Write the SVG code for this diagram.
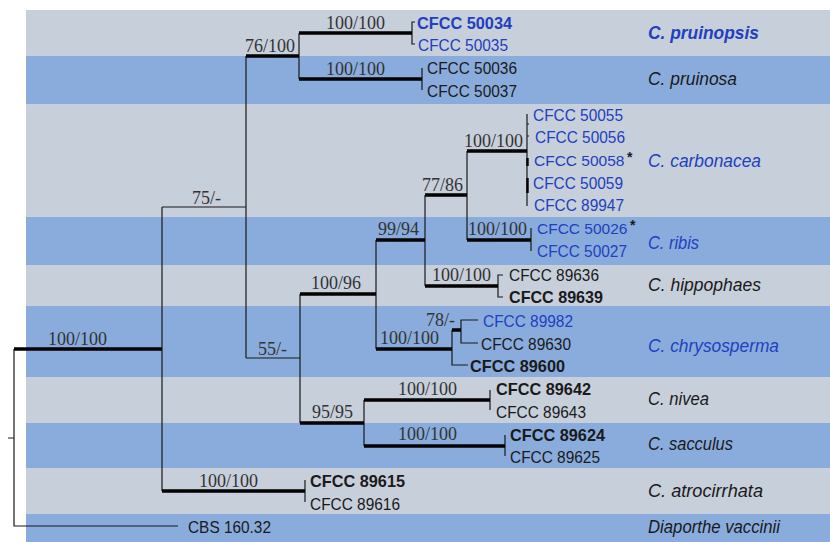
<svg xmlns="http://www.w3.org/2000/svg" width="830" height="542" viewBox="0 0 830 542">
<style>
.g{fill:#c7cfda}
.b{fill:#89acdc}
.tn{fill:none;stroke:#1a1a1a;stroke-width:1.2}
.tk{fill:none;stroke:#000;stroke-width:3.6}
.s{font-family:"Liberation Serif",serif;font-size:18px;fill:#333}
.t{font-family:"Liberation Sans",Arial,sans-serif;font-size:17px;fill:#1a1a1a}
.bd{font-weight:bold}
.sp{font-family:"Liberation Sans",Arial,sans-serif;font-size:18.5px;font-style:italic;fill:#1a1a1a}
.ast{font-family:"Liberation Sans",Arial,sans-serif;font-size:14px;font-weight:bold;fill:#1a1a1a}
.bl{fill:#2140c0}
</style>
<rect width="830" height="542" fill="#fff"/>
<g id="bands">
<rect class="g" x="26" y="10" width="804" height="46"/>
<rect class="b" x="26" y="56" width="804" height="48"/>
<rect class="g" x="26" y="104" width="804" height="113"/>
<rect class="b" x="26" y="217" width="804" height="48"/>
<rect class="g" x="26" y="265" width="804" height="41"/>
<rect class="b" x="26" y="306" width="804" height="71"/>
<rect class="g" x="26" y="377" width="804" height="46"/>
<rect class="b" x="26" y="423" width="804" height="45"/>
<rect class="g" x="26" y="468" width="804" height="46"/>
<rect class="b" x="26" y="514" width="804" height="28"/>
</g>
<g id="connectors">
<path class="tn" d="M8,438H14M14,349V526H178"/>
<path class="tn" d="M162,207V491M162,207H246M246,56V358M299,33V79"/>
<path class="tn" d="M415,22H412V44H415M422,68V90"/>
<path class="tn" d="M246,358H300M300,294V423M376,240V349M425,195V286M467,151V240"/>
<path class="tn" d="M527,114V206M529,124H527V136H529M531,228V251M503,275H498V297H503"/>
<path class="tn" d="M452,330V365H468M478,320H461V343H478"/>
<path class="tn" d="M364,400V446M490,390V410M505,435V456M305,480V502"/>
<path fill="none" stroke="#000" stroke-width="2.4" d="M527.5,158V166M527.5,178V193"/>
<path class="tk" d="M14,349H162M246,56H299M299,33H412M299,79H422"/>
<path class="tk" d="M300,294H376M376,240H425M425,195H467M467,151H527M467,240H531M425,286H498"/>
<path class="tk" d="M376,349H452M452,330H461M300,423H364M364,400H490M364,446H505M162,491H305"/>
</g>
<g id="support">
<text class="s" x="326" y="29">100/100</text>
<text class="s" x="245" y="52">76/100</text>
<text class="s" x="326" y="75">100/100</text>
<text class="s" x="192" y="204">75/-</text>
<text class="s" x="464" y="147">100/100</text>
<text class="s" x="422" y="191">77/86</text>
<text class="s" x="378" y="235">99/94</text>
<text class="s" x="468" y="235">100/100</text>
<text class="s" x="432" y="281">100/100</text>
<text class="s" x="311" y="289">100/96</text>
<text class="s" x="426" y="326">78/-</text>
<text class="s" x="380" y="344">100/100</text>
<text class="s" x="258" y="355">55/-</text>
<text class="s" x="48" y="345">100/100</text>
<text class="s" x="398" y="395">100/100</text>
<text class="s" x="312" y="418">95/95</text>
<text class="s" x="398" y="440">100/100</text>
<text class="s" x="199" y="487">100/100</text>
</g>
<g id="tip-50034"><text class="t bd bl" x="417" y="29" textLength="95" lengthAdjust="spacingAndGlyphs">CFCC 50034</text></g>
<g id="tip-50035"><text class="t bl" x="418" y="51" textLength="90" lengthAdjust="spacingAndGlyphs">CFCC 50035</text></g>
<g id="tip-50036"><text class="t" x="427" y="74" textLength="90" lengthAdjust="spacingAndGlyphs">CFCC 50036</text></g>
<g id="tip-50037"><text class="t" x="427" y="97" textLength="90" lengthAdjust="spacingAndGlyphs">CFCC 50037</text></g>
<g id="tip-50055"><text class="t bl" x="533" y="121" textLength="90" lengthAdjust="spacingAndGlyphs">CFCC 50055</text></g>
<g id="tip-50056"><text class="t bl" x="535" y="143" textLength="90" lengthAdjust="spacingAndGlyphs">CFCC 50056</text></g>
<g id="tip-50058"><text class="t bl" x="534" y="166" style="font-size:15.5px">CFCC 50058</text><text class="ast" x="627" y="162">*</text></g>
<g id="tip-50059"><text class="t bl" x="533" y="189" textLength="90" lengthAdjust="spacingAndGlyphs">CFCC 50059</text></g>
<g id="tip-89947"><text class="t bl" x="534" y="211" textLength="90" lengthAdjust="spacingAndGlyphs">CFCC 89947</text></g>
<g id="tip-50026"><text class="t bl" x="537" y="234" style="font-size:15.5px">CFCC 50026</text><text class="ast" x="630" y="230">*</text></g>
<g id="tip-50027"><text class="t bl" x="537" y="257" textLength="90" lengthAdjust="spacingAndGlyphs">CFCC 50027</text></g>
<g id="tip-89636"><text class="t" x="509" y="281" textLength="90" lengthAdjust="spacingAndGlyphs">CFCC 89636</text></g>
<g id="tip-89639"><text class="t bd" x="509" y="303" textLength="94" lengthAdjust="spacingAndGlyphs">CFCC 89639</text></g>
<g id="tip-89982"><text class="t bl" x="483" y="327" textLength="90" lengthAdjust="spacingAndGlyphs">CFCC 89982</text></g>
<g id="tip-89630"><text class="t" x="481" y="350" textLength="90" lengthAdjust="spacingAndGlyphs">CFCC 89630</text></g>
<g id="tip-89600"><text class="t bd" x="470" y="372" textLength="95" lengthAdjust="spacingAndGlyphs">CFCC 89600</text></g>
<g id="tip-89642"><text class="t bd" x="496" y="395" textLength="95" lengthAdjust="spacingAndGlyphs">CFCC 89642</text></g>
<g id="tip-89643"><text class="t" x="496" y="418" textLength="90" lengthAdjust="spacingAndGlyphs">CFCC 89643</text></g>
<g id="tip-89624"><text class="t bd" x="510" y="441" textLength="95" lengthAdjust="spacingAndGlyphs">CFCC 89624</text></g>
<g id="tip-89625"><text class="t" x="510" y="463" textLength="90" lengthAdjust="spacingAndGlyphs">CFCC 89625</text></g>
<g id="tip-89615"><text class="t bd" x="310" y="487" textLength="95" lengthAdjust="spacingAndGlyphs">CFCC 89615</text></g>
<g id="tip-89616"><text class="t" x="310" y="510" textLength="90" lengthAdjust="spacingAndGlyphs">CFCC 89616</text></g>
<g id="tip-cbs"><text class="t" x="188" y="533" textLength="83" lengthAdjust="spacingAndGlyphs">CBS 160.32</text></g>
<g id="sp-pruinopsis"><text class="sp bl" font-weight="bold" x="648" y="39" textLength="111" lengthAdjust="spacingAndGlyphs">C. pruinopsis</text></g>
<g id="sp-pruinosa"><text class="sp" x="648" y="85" textLength="89" lengthAdjust="spacingAndGlyphs">C. pruinosa</text></g>
<g id="sp-carbonacea"><text class="sp bl" x="648" y="167" textLength="113" lengthAdjust="spacingAndGlyphs">C. carbonacea</text></g>
<g id="sp-ribis"><text class="sp bl" x="648" y="249" textLength="51" lengthAdjust="spacingAndGlyphs">C. ribis</text></g>
<g id="sp-hippophaes"><text class="sp" x="648" y="291" textLength="113" lengthAdjust="spacingAndGlyphs">C. hippophaes</text></g>
<g id="sp-chrysosperma"><text class="sp bl" x="648" y="352" textLength="131" lengthAdjust="spacingAndGlyphs">C. chrysosperma</text></g>
<g id="sp-nivea"><text class="sp" x="648" y="405" textLength="61" lengthAdjust="spacingAndGlyphs">C. nivea</text></g>
<g id="sp-sacculus"><text class="sp" x="648" y="450" textLength="85" lengthAdjust="spacingAndGlyphs">C. sacculus</text></g>
<g id="sp-atrocirrhata"><text class="sp" x="648" y="497" textLength="115" lengthAdjust="spacingAndGlyphs">C. atrocirrhata</text></g>
<g id="sp-diaporthe"><text class="sp" x="648" y="533" textLength="132" lengthAdjust="spacingAndGlyphs">Diaporthe vaccinii</text></g>
</svg>
